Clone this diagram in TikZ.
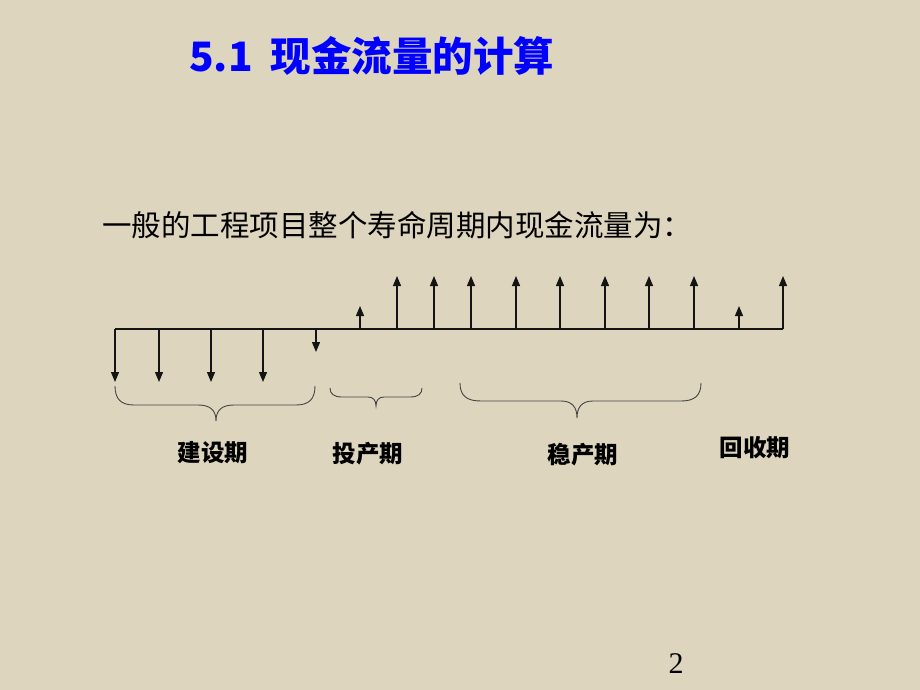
\documentclass[tikz,border=0pt]{standalone}
\usepackage{fontspec}
\setmainfont{Liberation Serif}
\newfontfamily\cjk{Noto Sans CJK SC}
\usetikzlibrary{arrows.meta}
\definecolor{bg}{RGB}{221,213,190}
\definecolor{titleblue}{RGB}{0,0,255}
\definecolor{ink}{RGB}{20,20,20}
\tikzset{
  flow/.style={draw=ink,line width=1.2pt,-{Triangle[width=8pt,length=10pt]}},
  axisline/.style={draw=ink,line width=1.2pt},
  bracepath/.style={draw=ink!80,line width=0.9pt},
  phase/.style={font=\cjk\bfseries\fontsize{23.5}{26}\selectfont,text=black,inner sep=0pt},
}
\begin{document}
\begin{tikzpicture}[x=1pt,y=-1pt]
\fill[bg] (0,0) rectangle (920,690);
\useasboundingbox (0,0) rectangle (920,690);

% title
\node[anchor=west,inner sep=0pt,text=titleblue,font=\cjk\bfseries\fontsize{40.5}{44}\selectfont] (title) at (189,56) {5.1\hspace{18pt}现金流量的计算};

% subtitle
\node[anchor=west,inner sep=0pt,font=\cjk\fontsize{29.5}{32}\selectfont] (sub) at (102,225) {一般的工程项目整个寿命周期内现金流量为：};

% axis
\coordinate (axL) at (115,329);
\coordinate (axR) at (783,329);
\draw[axisline] (axL) -- (axR);

% outflows (down)
\foreach \n/\x/\y in {d1/115/382,d2/159/382,d3/211/382,d4/263/382,d5/316/352}{
  \coordinate (\n b) at (\x,329);
  \coordinate (\n t) at (\x,\y);
  \draw[flow] (\n b) -- (\n t);
}
% inflows (up)
\foreach \n/\x/\y in {u1/360/306,u2/397/276,u3/434/276,u4/471/276,u5/516/276,u6/560/276,u7/605/276,u8/649/276,u9/694/276,u10/739/306,u11/783/276}{
  \coordinate (\n b) at (\x,329);
  \coordinate (\n t) at (\x,\y);
  \draw[flow] (\n b) -- (\n t);
}

% braces
\draw[bracepath] (115,386) .. controls (115,399) and (121,405) .. (134,405) -- (198,405)
  .. controls (210,405) and (216,410) .. (216,421)
  .. controls (216,410) and (222,405) .. (234,405) -- (296,405)
  .. controls (309,405) and (315,399) .. (315,386);
\draw[bracepath] (330,388) .. controls (330,394) and (334,397) .. (342,397) -- (368,397)
  .. controls (373,397) and (376,400) .. (376,406)
  .. controls (376,400) and (379,397) .. (384,397) -- (410,397)
  .. controls (418,397) and (422,394) .. (422,388);
\draw[bracepath] (460,383) .. controls (460,396) and (467,401) .. (481,401) -- (561,401)
  .. controls (572,401) and (577,407) .. (577,418)
  .. controls (577,407) and (582,401) .. (593,401) -- (681,401)
  .. controls (694,401) and (701,396) .. (701,383);

% phase labels
\node[phase] (jsq) at (213,453) {建设期};
\node[phase] (tcq) at (368,454) {投产期};
\node[phase] (wcq) at (583,455) {稳产期};
\node[phase] (hsq) at (755,448) {回收期};

% page number
\node[inner sep=0pt,font=\fontsize{30}{32}\selectfont] (pg) at (676,664) {2};
\end{tikzpicture}
\end{document}
